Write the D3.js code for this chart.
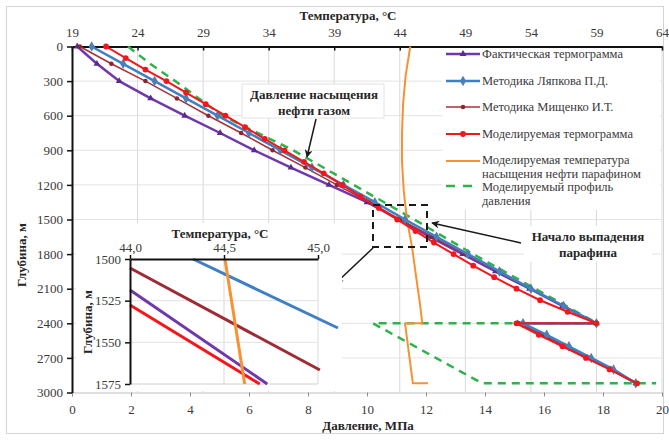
<!DOCTYPE html>
<html>
<head>
<meta charset="utf-8">
<script src="https://cdn.jsdelivr.net/npm/d3@7"></script>
<style>
body{margin:0;background:#fff;}
svg{display:block;}
</style>
</head>
<body>
<script>
// axes ticks
const tempTicks = [19,24,29,34,39,44,49,54,59,64]
const pressTicks = [0,2,4,6,8,10,12,14,16,18,20]
const depthTicks = [0,300,600,900,1200,1500,1800,2100,2400,2700,3000]

// upper part of well, 0..2400 m
const depth150 = [0,150,300,450,600,750,900,1050,1200,1350,1500,1650,1800,1950,2100,2250,2400]
const tempFact = [19.4,20.9,22.6,25.0,27.6,30.3,32.9,35.7,38.6,41.5,43.9,46.3,48.8,51.3,53.9,56.4,59.0]
const tempLyapkov = [20.5,22.9,25.3,27.7,30.1,32.5,34.9,37.3,39.7,42.1,44.4,46.8,49.2,51.6,54.0,56.5,59.0]
const tempMishchenko = [19.6,22.0,24.6,27.0,29.4,31.9,34.3,36.8,39.2,41.7,44.0,46.5,49.0,51.5,54.0,56.5,59.0]
const depth100 = [0,100,200,300,400,500,600,700,800,900,1000,1100,1200,1300,1400,1500,1600,1700,1800,1900,2000,2100,2200,2300,2400]
const tempModel = [21.6,23.1,24.6,26.2,27.7,29.2,30.7,32.2,33.7,35.2,36.7,38.2,39.6,41.0,42.4,43.8,45.2,46.6,48.1,49.6,51.2,52.9,54.7,56.8,59.0]

// lower part, 2400..2920 m
const depthLow = [2400,2500,2600,2700,2800,2920]
const tempFactLow = [53.0,54.8,56.6,58.3,60.1,62.0]
const tempLyapkovLow = [53.4,55.2,56.9,58.6,60.3,62.0]
const tempMishchenkoLow = [53.1,54.9,56.6,58.4,60.2,62.1]
const tempModelLow = [52.9,54.6,56.4,58.2,60.0,62.1]

// paraffin saturation temperature
const depthSat = [0,250,500,750,1000,1250,1500,1750,2000,2200,2400,2400,2920,2920]
const tempSat = [44.8,44.45,44.25,44.17,44.17,44.3,44.55,44.95,45.25,45.5,45.72,44.4,45.0,46.15]

// pressure profile, MPa
const depthPress = [0,150,300,450,600,900,1200,1500,1800,2100,2400,2400,2920,2920]
const pressProfile = [1.9,2.65,3.5,4.3,5.1,7.5,9.55,11.6,13.6,15.7,17.8,10.2,13.9,19.8]

// inset 1500..1575 m
const insetTempTicks = [44.0,44.5,45.0]
const insetDepthTicks = [1500,1525,1550,1575]
const insetLyapkov = [[44.335,1500],[45.106,1541.4]]
const insetMishchenko = [[44.0,1505.4],[45.01,1566.6]]
const insetFact = [[44.0,1518.6],[44.73,1575]]
const insetModel = [[44.0,1527.6],[44.69,1575]]
const insetSat = [[44.505,1500],[44.61,1575]]

const legendNames = ["Фактическая термограмма","Методика Ляпкова П.Д.","Методика Мищенко И.Т.","Моделируемая термограмма",["Моделируемая температура","насыщения нефти парафином"],["Моделируемый профиль","давления"]]

const cPurple="#7038a8", cBlue="#3f7fc4", cDark="#a8323a", cRed="#f5161b", cOrange="#f79234", cGreen="#2fb24a"
const FONT = "Liberation Serif, Times New Roman, DejaVu Serif, serif"

let zip = (a,b) => a.map((v,i)=>[v,b[i]])

let svg = d3.select("body").append("svg").attr("width",669).attr("height",440)
  .attr("font-family",FONT)

let defs = svg.append("defs")
defs.append("marker").attr("id","arr")
  .attr("viewBox","0 0 10 10").attr("refX",9).attr("refY",5)
  .attr("markerUnits","userSpaceOnUse").attr("markerWidth",10).attr("markerHeight",8)
  .attr("orient","auto")
  .append("path").attr("d","M0,0L10,5L0,10L3,5z").attr("fill","#1a1a1a")

svg.append("rect").attr("x",6.5).attr("y",6.5).attr("width",657).attr("height",427)
  .attr("fill","#fff").attr("stroke","#d4d4d4")

let xP = d3.scaleLinear().domain([0,20]).range([72,662])
let xT = d3.scaleLinear().domain([19,64]).range([72,662])
let yD = d3.scaleLinear().domain([0,3000]).range([46.5,392.5])

// grid
svg.append("g").selectAll("line").data(tempTicks.slice(1)).enter().append("line")
  .attr("x1",d=>xT(d)).attr("x2",d=>xT(d)).attr("y1",46.5).attr("y2",392.5)
  .attr("stroke","#d9d9d9")
svg.append("g").selectAll("line").data(depthTicks.slice(1,-1)).enter().append("line")
  .attr("x1",72).attr("x2",662).attr("y1",d=>yD(d)).attr("y2",d=>yD(d))
  .attr("stroke","#e3e3e3")

function styleAxis(g,size){
  g.attr("font-family",FONT).attr("font-size",size)
  g.selectAll("text").attr("fill","#3a3a3a")
}

let bottomAxis = svg.append("g").attr("transform","translate(0,392.5)")
  .call(d3.axisBottom(xP).tickValues(pressTicks).tickSize(4).tickPadding(8).tickFormat(d3.format("d")))
styleAxis(bottomAxis,13)
bottomAxis.select(".domain").attr("stroke","#bfbfbf")
bottomAxis.selectAll(".tick line").attr("stroke","#8c8c8c")

let topAxis = svg.append("g").attr("transform","translate(0,46.5)")
  .call(d3.axisTop(xT).tickValues(tempTicks).tickSizeInner(-4).tickSizeOuter(0).tickPadding(10).tickFormat(d3.format("d")))
styleAxis(topAxis,13)
topAxis.select(".domain").attr("stroke","#111").attr("stroke-width",2)
topAxis.selectAll(".tick line").attr("stroke","#111").attr("stroke-width",1.5)

let leftAxis = svg.append("g").attr("transform","translate(72,0)")
  .call(d3.axisLeft(yD).tickValues(depthTicks).tickSize(5).tickSizeOuter(0).tickPadding(4).tickFormat(d3.format("d")))
styleAxis(leftAxis,13)
leftAxis.select(".domain").attr("stroke","#111").attr("stroke-width",2)
leftAxis.selectAll(".tick line").attr("stroke","#111").attr("stroke-width",1.5)

svg.append("text").attr("x",348).attr("y",20).attr("text-anchor","middle")
  .attr("font-size",13).attr("font-weight","bold").attr("fill","#262626").text("Температура, °С")
svg.append("text").attr("x",368).attr("y",430).attr("text-anchor","middle")
  .attr("font-size",13).attr("font-weight","bold").attr("fill","#262626").text("Давление, МПа")
svg.append("text").attr("transform","translate(26,255) rotate(-90)").attr("text-anchor","middle")
  .attr("font-size",13).attr("font-weight","bold").attr("fill","#262626").text("Глубина, м")

function symbolPath(type,size){ return d3.symbol().type(type).size(size)() }

function drawLine(g,pts,sx,sy,st){
  let line = d3.line().x(d=>sx(d[0])).y(d=>sy(d[1]))
  g.append("path").datum(pts).attr("d",line).attr("fill","none")
    .attr("stroke",st.color).attr("stroke-width",st.width)
    .attr("stroke-dasharray",st.dash||null).attr("stroke-linejoin","round")
  if(st.symbol){
    g.append("g").selectAll("path").data(pts).enter().append("path")
      .attr("d",symbolPath(st.symbol,st.size))
      .attr("transform",d=>`translate(${sx(d[0])},${sy(d[1])})`)
      .attr("fill",st.mfill||st.color)
  }
}

let styles = [
  {color:cPurple,width:2.5,symbol:d3.symbolTriangle,size:20,mfill:"#5a2a8e"},
  {color:cBlue,width:2.5,symbol:d3.symbolDiamond,size:32,mfill:"#4b7fb8"},
  {color:cDark,width:1.6,symbol:d3.symbolCircle,size:16,mfill:"#8e2430"},
  {color:cRed,width:2,symbol:d3.symbolCircle,size:26},
  {color:cOrange,width:2},
  {color:cGreen,width:2.5,dash:"8,6"}
]

let plot = svg.append("g")
drawLine(plot,zip(pressProfile,depthPress),xP,yD,styles[5])
drawLine(plot,zip(tempSat,depthSat),xT,yD,styles[4])
drawLine(plot,zip(tempFact.concat(tempFactLow),depth150.concat(depthLow)),xT,yD,styles[0])
drawLine(plot,zip(tempMishchenko.concat(tempMishchenkoLow),depth150.concat(depthLow)),xT,yD,styles[2])
drawLine(plot,zip(tempLyapkov.concat(tempLyapkovLow),depth150.concat(depthLow)),xT,yD,styles[1])
drawLine(plot,zip(tempModel.concat(tempModelLow),depth100.concat(depthLow)),xT,yD,styles[3])

// legend
let legend = svg.append("g")
legend.append("rect").attr("x",442).attr("y",48).attr("width",218).attr("height",162).attr("fill","#fff")
let legY = [54,81,107,134,161,186]
let legText = [[58],[85],[111],[138],[164,178],[191,205]]
legendNames.forEach((name,i)=>{
  let st = styles[i]
  let gy = legY[i]
  legend.append("line").attr("x1",446).attr("x2",480).attr("y1",gy).attr("y2",gy)
    .attr("stroke",st.color).attr("stroke-width",st.width).attr("stroke-dasharray",st.dash?"9,8":null)
  if(st.symbol){
    legend.append("path").attr("d",symbolPath(st.symbol,st.size)).attr("transform",`translate(463,${gy})`)
      .attr("fill",st.mfill||st.color)
  }
  let lines = Array.isArray(name)?name:[name]
  lines.forEach((t,j)=>{
    legend.append("text").attr("x",482).attr("y",legText[i][j]).attr("font-size",12.5)
      .attr("fill","#3a3a3a").text(t)
  })
})

// annotations
let ann = svg.append("g")
ann.append("rect").attr("x",242).attr("y",84).attr("width",142).attr("height",34)
  .attr("fill","#fff").attr("stroke","#e2e2e2")
ann.append("text").attr("x",314).attr("y",99).attr("text-anchor","middle").attr("font-size",13)
  .attr("font-weight","bold").attr("fill","#262626").text("Давление насыщения")
ann.append("text").attr("x",314).attr("y",115).attr("text-anchor","middle").attr("font-size",13)
  .attr("font-weight","bold").attr("fill","#262626").text("нефти газом")
ann.append("line").attr("x1",316).attr("y1",119).attr("x2",307).attr("y2",157)
  .attr("stroke","#1a1a1a").attr("stroke-width",1.5).attr("marker-end","url(#arr)")

ann.append("rect").attr("x",524).attr("y",226).attr("width",128).attr("height",36)
  .attr("fill","#fff")
ann.append("text").attr("x",588).attr("y",241).attr("text-anchor","middle").attr("font-size",13)
  .attr("font-weight","bold").attr("fill","#262626").text("Начало выпадения")
ann.append("text").attr("x",588).attr("y",257).attr("text-anchor","middle").attr("font-size",13)
  .attr("font-weight","bold").attr("fill","#262626").text("парафина")
ann.append("line").attr("x1",521).attr("y1",243).attr("x2",432).attr("y2",223)
  .attr("stroke","#1a1a1a").attr("stroke-width",1.5).attr("marker-end","url(#arr)")

ann.append("rect").attr("x",373).attr("y",205).attr("width",54).attr("height",42)
  .attr("fill","none").attr("stroke","#1a1a1a").attr("stroke-width",2).attr("stroke-dasharray","7,5")
ann.append("line").attr("x1",373).attr("y1",248).attr("x2",336).attr("y2",283)
  .attr("stroke","#1a1a1a").attr("stroke-width",1.5).attr("marker-end","url(#arr)")

// inset
let inset = svg.append("g")
inset.append("rect").attr("x",76).attr("y",223).attr("width",266).attr("height",168).attr("fill","#fff")
let ixT = d3.scaleLinear().domain([44.0,45.0]).range([130,318])
let iyD = d3.scaleLinear().domain([1500,1575]).range([259,384])

inset.append("g").selectAll("line").data(insetTempTicks.slice(1)).enter().append("line")
  .attr("x1",d=>ixT(d)).attr("x2",d=>ixT(d)).attr("y1",259).attr("y2",384).attr("stroke","#d9d9d9")
inset.append("g").selectAll("line").data(insetDepthTicks.slice(1,-1)).enter().append("line")
  .attr("x1",130).attr("x2",318).attr("y1",d=>iyD(d)).attr("y2",d=>iyD(d)).attr("stroke","#e3e3e3")
inset.append("line").attr("x1",130).attr("x2",318).attr("y1",384).attr("y2",384).attr("stroke","#d0d0d0")

drawLine(inset,insetLyapkov,ixT,iyD,{color:cBlue,width:3})
drawLine(inset,insetMishchenko,ixT,iyD,{color:"#9e2a33",width:3})
drawLine(inset,insetFact,ixT,iyD,{color:cPurple,width:3})
drawLine(inset,insetModel,ixT,iyD,{color:cRed,width:3})
drawLine(inset,insetSat,ixT,iyD,{color:cOrange,width:3})

let iTop = inset.append("g").attr("transform","translate(0,259)")
  .call(d3.axisTop(ixT).tickValues(insetTempTicks).tickSizeInner(4).tickSizeOuter(0).tickPadding(3)
    .tickFormat(d=>d.toFixed(1).replace(".",",")))
styleAxis(iTop,13)
iTop.select(".domain").attr("stroke","#111").attr("stroke-width",2)
iTop.selectAll(".tick line").attr("stroke","#111").attr("stroke-width",1.5)

let iLeft = inset.append("g").attr("transform","translate(130,0)")
  .call(d3.axisLeft(iyD).tickValues(insetDepthTicks).tickSize(5).tickSizeOuter(0).tickPadding(4).tickFormat(d3.format("d")))
styleAxis(iLeft,13)
iLeft.select(".domain").attr("stroke","#111").attr("stroke-width",2)
iLeft.selectAll(".tick line").attr("stroke","#111").attr("stroke-width",1.5)

inset.append("text").attr("x",220).attr("y",238).attr("text-anchor","middle").attr("font-size",13)
  .attr("font-weight","bold").attr("fill","#262626").text("Температура, °С")
inset.append("text").attr("transform","translate(92,322) rotate(-90)").attr("text-anchor","middle")
  .attr("font-size",13).attr("font-weight","bold").attr("fill","#262626").text("Глубина, м")
</script>
</body>
</html>
